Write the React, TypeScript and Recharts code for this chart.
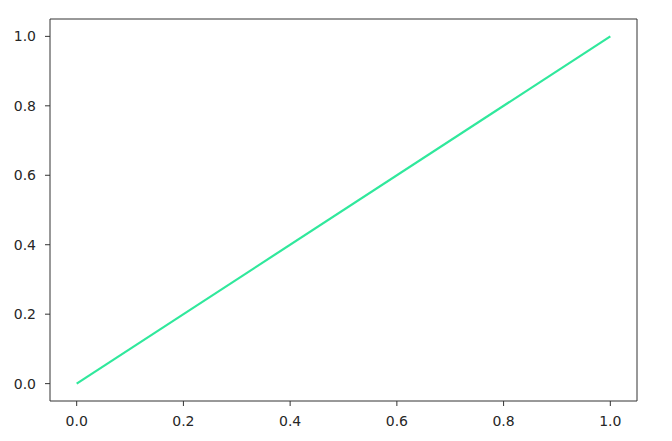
import React from "react";
import { LineChart, Line, XAxis, YAxis } from "recharts";

const xValues = [0, 1];
const yValues = [0, 1];
const xTicks = [0, 0.2, 0.4, 0.6, 0.8, 1.0];
const yTicks = [0, 0.2, 0.4, 0.6, 0.8, 1.0];

const data = xValues.map((x, i) => ({ x, y: yValues[i] }));

const fmt = (v: number) => v.toFixed(1);
const font = { fontFamily: "DejaVu Sans", fontSize: 14, fill: "#262626" };

export default function App() {
  return (
    <div style={{ position: "fixed", left: 0, top: 0, width: 672, height: 441, background: "#fff" }}>
      <LineChart width={672} height={441} data={data} margin={{ top: 18, right: 34, bottom: 0, left: 0 }}>
        <XAxis
          xAxisId="b"
          dataKey="x"
          type="number"
          domain={[-0.05, 1.05]}
          ticks={xTicks}
          tickFormatter={fmt}
          height={40}
          tickSize={5}
          tickMargin={10}
          tick={font}
          stroke="#333"
          tickLine={{ stroke: "#333" }}
          allowDataOverflow
        />
        <XAxis
          xAxisId="t"
          dataKey="x"
          type="number"
          orientation="top"
          domain={[-0.05, 1.05]}
          ticks={xTicks}
          height={1}
          tick={false}
          tickLine={false}
          stroke="#333"
        />
        <YAxis
          yAxisId="l"
          type="number"
          domain={[-0.05, 1.05]}
          ticks={yTicks}
          tickFormatter={fmt}
          width={50}
          tickSize={5}
          tickMargin={9}
          tick={font}
          stroke="#333"
          tickLine={{ stroke: "#333" }}
          allowDataOverflow
        />
        <YAxis
          yAxisId="r"
          type="number"
          orientation="right"
          domain={[-0.05, 1.05]}
          ticks={yTicks}
          width={1}
          tick={false}
          tickLine={false}
          stroke="#333"
        />
        <Line
          xAxisId="b"
          yAxisId="l"
          dataKey="y"
          stroke="#30e89c"
          strokeWidth={2.2}
          dot={false}
          isAnimationActive={false}
        />
      </LineChart>
    </div>
  );
}
